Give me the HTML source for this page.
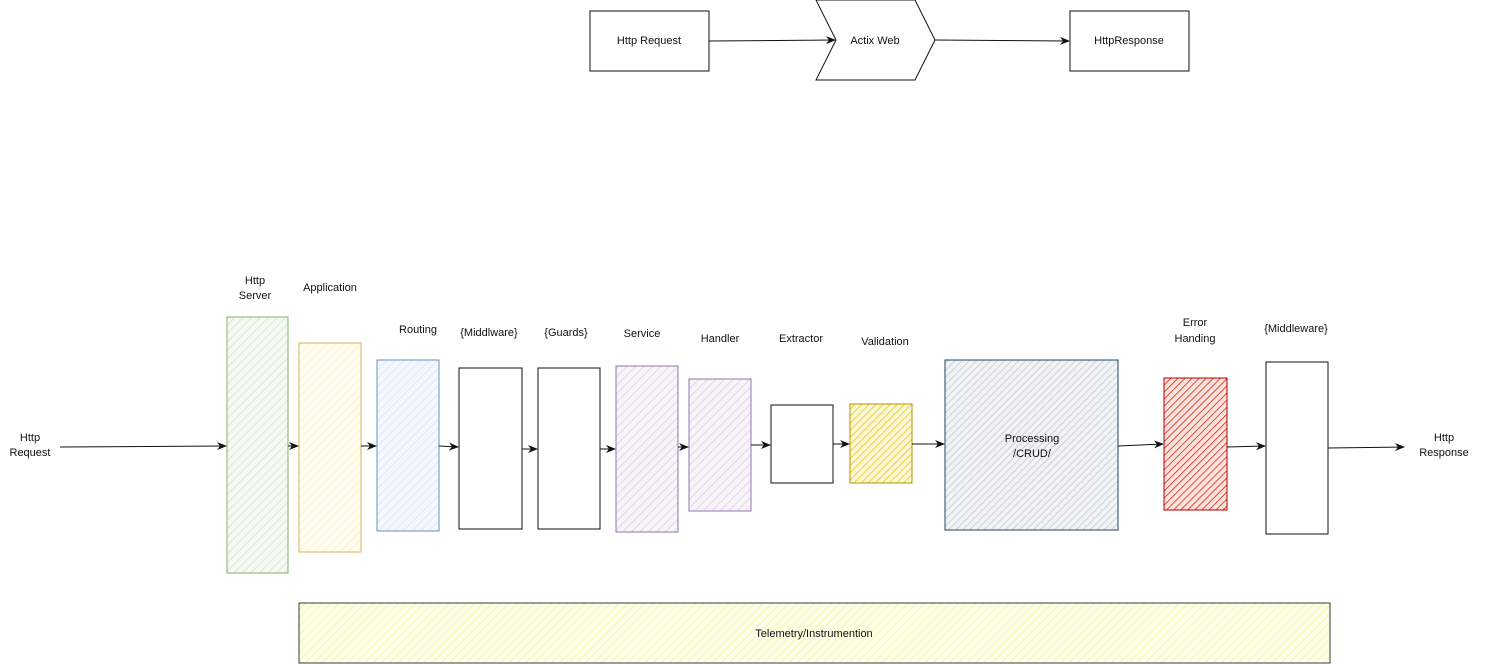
<!DOCTYPE html>
<html><head><meta charset="utf-8"><style>
html,body{margin:0;padding:0;background:#fff;}
svg{display:block;}
text{font-family:"Liberation Sans",sans-serif;font-size:11px;fill:#111;}
</style></head><body>
<svg width="1485" height="664" viewBox="0 0 1485 664" xmlns="http://www.w3.org/2000/svg">
<defs>
<marker id="a" markerWidth="10" markerHeight="10" refX="9" refY="5" orient="auto" markerUnits="userSpaceOnUse"><path d="M0,1 L10,5 L0,9 L3,5 Z" fill="#111"/></marker>
<pattern id="pg" width="6" height="6" patternUnits="userSpaceOnUse" patternTransform="rotate(45)"><rect width="6" height="6" fill="#f4f9f2"/><line x1="0" y1="0" x2="0" y2="6" stroke="#d5e8d4" stroke-width="2"/></pattern>
<pattern id="py" width="6" height="6" patternUnits="userSpaceOnUse" patternTransform="rotate(45)"><rect width="6" height="6" fill="#fffcf2"/><line x1="0" y1="0" x2="0" y2="6" stroke="#fff2cc" stroke-width="2"/></pattern>
<pattern id="pb" width="6" height="6" patternUnits="userSpaceOnUse" patternTransform="rotate(45)"><rect width="6" height="6" fill="#f4f8fd"/><line x1="0" y1="0" x2="0" y2="6" stroke="#dae8fc" stroke-width="2"/></pattern>
<pattern id="pp" width="6" height="6" patternUnits="userSpaceOnUse" patternTransform="rotate(45)"><rect width="6" height="6" fill="#f8f4f9"/><line x1="0" y1="0" x2="0" y2="6" stroke="#e1d5e7" stroke-width="2"/></pattern>
<pattern id="pv" width="5" height="5" patternUnits="userSpaceOnUse" patternTransform="rotate(45)"><rect width="5" height="5" fill="#fbf6d8"/><line x1="0" y1="0" x2="0" y2="5" stroke="#e3c800" stroke-width="1.5"/></pattern>
<pattern id="ps" width="5" height="5" patternUnits="userSpaceOnUse" patternTransform="rotate(45)"><rect width="5" height="5" fill="#f1f3f5"/><line x1="0" y1="0" x2="0" y2="5" stroke="#bac8d3" stroke-width="1.5"/></pattern>
<pattern id="pr" width="5" height="5" patternUnits="userSpaceOnUse" patternTransform="rotate(45)"><rect width="5" height="5" fill="#fbe3e0"/><line x1="0" y1="0" x2="0" y2="5" stroke="#e51400" stroke-width="1.5"/></pattern>
<pattern id="pt" width="6" height="6" patternUnits="userSpaceOnUse" patternTransform="rotate(45)"><rect width="6" height="6" fill="#fdfde8"/><line x1="0" y1="0" x2="0" y2="6" stroke="#f5f7b0" stroke-width="2"/></pattern>
</defs>

<!-- top -->
<rect x="590" y="11" width="119" height="60" fill="#fff" stroke="#111"/>
<text x="649" y="44" text-anchor="middle">Http Request</text>
<path d="M816,0 L935,0 L935,0 L935,40 L935,40 Z" fill="none"/>
<path d="M816,0 L915,0 L935,40 L915,80 L816,80 L836,40 Z" fill="#fff" stroke="#111"/>
<text x="875" y="44" text-anchor="middle">Actix Web</text>
<rect x="1070" y="11" width="119" height="60" fill="#fff" stroke="#111"/>
<text x="1129" y="44" text-anchor="middle">HttpResponse</text>
<line x1="709" y1="41" x2="835" y2="40" stroke="#111" marker-end="url(#a)"/>
<line x1="935" y1="40" x2="1069" y2="41" stroke="#111" marker-end="url(#a)"/>

<!-- boxes -->
<rect x="227" y="317" width="61" height="256" fill="url(#pg)" stroke="#82b366"/>
<rect x="299" y="343" width="62" height="209" fill="url(#py)" stroke="#d6b656"/>
<rect x="377" y="360" width="62" height="171" fill="url(#pb)" stroke="#6c8ebf"/>
<rect x="459" y="368" width="63" height="161" fill="#fff" stroke="#111"/>
<rect x="538" y="368" width="62" height="161" fill="#fff" stroke="#111"/>
<rect x="616" y="366" width="62" height="166" fill="url(#pp)" stroke="#9673a6"/>
<rect x="689" y="379" width="62" height="132" fill="url(#pp)" stroke="#9673a6"/>
<rect x="771" y="405" width="62" height="78" fill="#fff" stroke="#111"/>
<rect x="850" y="404" width="62" height="79" fill="url(#pv)" stroke="#b09500"/>
<rect x="945" y="360" width="173" height="170" fill="url(#ps)" stroke="#23445d"/>
<rect x="1164" y="378" width="63" height="132" fill="url(#pr)" stroke="#b20000"/>
<rect x="1266" y="362" width="62" height="172" fill="#fff" stroke="#111"/>
<rect x="299" y="603" width="1031" height="60" fill="url(#pt)" stroke="#36393d"/>

<!-- arrows -->
<g stroke="#111" fill="none" marker-end="url(#a)">
<line x1="60" y1="447" x2="226" y2="446"/>
<line x1="288" y1="446" x2="298" y2="446"/>
<line x1="361" y1="446" x2="376" y2="446"/>
<line x1="439" y1="446" x2="458" y2="447"/>
<line x1="522" y1="449" x2="537" y2="449"/>
<line x1="600" y1="449" x2="615" y2="449"/>
<line x1="678" y1="447" x2="688" y2="447"/>
<line x1="751" y1="445" x2="770" y2="445"/>
<line x1="833" y1="444" x2="849" y2="444"/>
<line x1="912" y1="444" x2="944" y2="444"/>
<line x1="1118" y1="446" x2="1163" y2="444"/>
<line x1="1227" y1="447" x2="1265" y2="446"/>
<line x1="1328" y1="448" x2="1404" y2="447"/>
</g>

<!-- labels -->
<text x="30" y="441" text-anchor="middle">Http</text>
<text x="30" y="456" text-anchor="middle">Request</text>
<text x="255" y="284" text-anchor="middle">Http</text>
<text x="255" y="299" text-anchor="middle">Server</text>
<text x="330" y="291" text-anchor="middle">Application</text>
<text x="418" y="333" text-anchor="middle">Routing</text>
<text x="489" y="336" text-anchor="middle">{Middlware}</text>
<text x="566" y="336" text-anchor="middle">{Guards}</text>
<text x="642" y="337" text-anchor="middle">Service</text>
<text x="720" y="342" text-anchor="middle">Handler</text>
<text x="801" y="342" text-anchor="middle">Extractor</text>
<text x="885" y="345" text-anchor="middle">Validation</text>
<text x="1032" y="442" text-anchor="middle">Processing</text>
<text x="1032" y="457" text-anchor="middle">/CRUD/</text>
<text x="1195" y="326" text-anchor="middle">Error</text>
<text x="1195" y="342" text-anchor="middle">Handing</text>
<text x="1296" y="332" text-anchor="middle">{Middleware}</text>
<text x="1444" y="441" text-anchor="middle">Http</text>
<text x="1444" y="456" text-anchor="middle">Response</text>
<text x="814" y="637" text-anchor="middle">Telemetry/Instrumention</text>
</svg>
</body></html>
